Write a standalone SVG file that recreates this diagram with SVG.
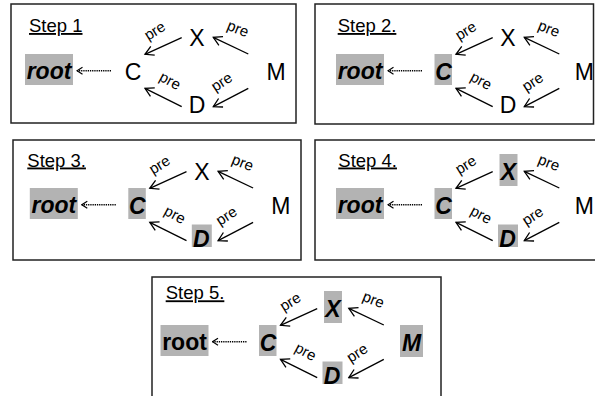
<svg xmlns="http://www.w3.org/2000/svg" xmlns:xlink="http://www.w3.org/1999/xlink" width="595" height="396" viewBox="0 0 595 396">
  <style>
    .frame { fill: #fff; stroke: #222; stroke-width: 1.5; }
    .hl { fill: #b3b3b3; stroke: none; }
    .step { font-family: "Liberation Sans", Arial, sans-serif; font-size: 18.5px; text-decoration: underline; fill: #000; }
    .node { font-family: "Liberation Sans", Arial, sans-serif; font-size: 23px; text-anchor: middle; fill: #000; }
    .done { font-weight: bold; font-style: italic; }
    .bold { font-weight: bold; }
    .edge { stroke: #000; stroke-width: 1.3; fill: none; }
    .dotted { stroke: #000; stroke-width: 1.5; stroke-dasharray: 1.3 0.9; fill: none; }
    .pre { font-family: "Liberation Sans", Arial, sans-serif; font-size: 15px; text-anchor: middle; fill: #000; }
  </style>
  <defs>
    <marker id="head" markerWidth="11" markerHeight="12" refX="9.5" refY="6" orient="auto" markerUnits="userSpaceOnUse">
      <path d="M1,1.2 L9.5,6 L1,10.8" fill="none" stroke="#000" stroke-width="1.3"/>
    </marker>
    <marker id="headSmall" markerWidth="8" markerHeight="9" refX="7" refY="4.5" orient="auto" markerUnits="userSpaceOnUse">
      <path d="M1.5,1 L7,4.5 L1.5,8" fill="none" stroke="#000" stroke-width="1.2"/>
    </marker>
    <!-- pre-order edges shared by every step -->
    <g id="edges">
      <line class="edge" x1="181.7" y1="37.7" x2="145" y2="54.3" marker-end="url(#head)"/>
      <line class="edge" x1="248.3" y1="54" x2="213.3" y2="37.3" marker-end="url(#head)"/>
      <line class="edge" x1="181.7" y1="106.7" x2="145" y2="88.3" marker-end="url(#head)"/>
      <line class="edge" x1="248.3" y1="88.3" x2="213.3" y2="106.7" marker-end="url(#head)"/>
      <line class="dotted" x1="111" y1="70.7" x2="77" y2="70.7" marker-end="url(#headSmall)"/>
      <text class="pre" transform="translate(156,33) rotate(-32)" y="2.5">pre</text>
      <text class="pre" transform="translate(237,31) rotate(22)" y="2.5">pre</text>
      <text class="pre" transform="translate(169,83) rotate(28)" y="2.5">pre</text>
      <text class="pre" transform="translate(223,84) rotate(-33)" y="2.5">pre</text>
    </g>
  </defs>

  <!-- frames -->
  <rect class="frame" x="11" y="4" width="285" height="119"/>
  <rect class="frame" x="315" y="4" width="278.5" height="120"/>
  <rect class="frame" x="13" y="140" width="288" height="120"/>
  <rect class="frame" x="315" y="140" width="290" height="120"/>
  <rect class="frame" x="152" y="277" width="289" height="130"/>

  <!-- Step 1 -->
  <g id="step1">
    <text class="step" x="29" y="32">Step 1</text>
    <g id="connectors1"><use xlink:href="#edges"/></g>
    <g id="s1-root"><rect class="hl" x="25" y="54" width="48" height="31"/><text class="node done" x="49" y="78.5">root</text></g>
    <g id="s1-C"><text class="node" x="133" y="79.5">C</text></g>
    <g id="s1-X"><text class="node" x="197" y="45.5">X</text></g>
    <g id="s1-D"><text class="node" x="197" y="113">D</text></g>
    <g id="s1-M"><text class="node" x="276" y="80">M</text></g>
  </g>

  <!-- Step 2 -->
  <text class="step" x="337.7" y="32">Step 2.</text>
  <g id="step2" transform="translate(311,0)">
    <g id="connectors2"><use xlink:href="#edges"/></g>
    <g id="s2-root"><rect class="hl" x="25" y="54" width="48" height="31"/><text class="node done" x="49" y="78.5">root</text></g>
    <g id="s2-C"><rect class="hl" x="123.5" y="54" width="17.5" height="31"/><text class="node done" x="132.5" y="79.5">C</text></g>
    <g id="s2-X"><text class="node" x="197" y="45.5">X</text></g>
    <g id="s2-D"><text class="node" x="197" y="113">D</text></g>
    <g id="s2-M"><text class="node" x="273.3" y="80">M</text></g>
  </g>

  <!-- Step 3 -->
  <text class="step" x="27.3" y="166.5">Step 3.</text>
  <g id="step3" transform="translate(4.8,134)">
    <g id="connectors3"><use xlink:href="#edges"/></g>
    <g id="s3-root"><rect class="hl" x="25" y="54" width="48" height="31"/><text class="node done" x="49" y="78.5">root</text></g>
    <g id="s3-C"><rect class="hl" x="123.5" y="54" width="17.5" height="31"/><text class="node done" x="132.5" y="79.5">C</text></g>
    <g id="s3-X"><text class="node" x="197" y="45.5">X</text></g>
    <g id="s3-D"><rect class="hl" x="187" y="90.5" width="20" height="22.5"/><text class="node done" x="196.5" y="113">D</text></g>
    <g id="s3-M"><text class="node" x="276" y="80">M</text></g>
  </g>

  <!-- Step 4 -->
  <text class="step" x="338.3" y="166.5">Step 4.</text>
  <g id="step4" transform="translate(311,134)">
    <g id="connectors4"><use xlink:href="#edges"/></g>
    <g id="s4-root"><rect class="hl" x="25" y="54" width="48" height="31"/><text class="node done" x="49" y="78.5">root</text></g>
    <g id="s4-C"><rect class="hl" x="123.5" y="54" width="17.5" height="31"/><text class="node done" x="132.5" y="79.5">C</text></g>
    <g id="s4-X"><rect class="hl" x="188.5" y="20" width="18" height="32"/><text class="node done" x="197.5" y="45.5">X</text></g>
    <g id="s4-D"><rect class="hl" x="187" y="90.5" width="20" height="22.5"/><text class="node done" x="196.5" y="113">D</text></g>
    <g id="s4-M"><text class="node" x="273.3" y="80">M</text></g>
  </g>

  <!-- Step 5 -->
  <text class="step" x="165.7" y="299.3">Step 5.</text>
  <g id="step5" transform="translate(135.5,271)">
    <g id="connectors5"><use xlink:href="#edges"/></g>
    <g id="s5-root"><rect class="hl" x="25" y="54" width="48" height="31"/><text class="node bold" x="49" y="78.5">root</text></g>
    <g id="s5-C"><rect class="hl" x="123.5" y="54" width="17.5" height="31"/><text class="node done" x="132.5" y="79.5">C</text></g>
    <g id="s5-X"><rect class="hl" x="188.5" y="20" width="18" height="32"/><text class="node done" x="197.5" y="45.5">X</text></g>
    <g id="s5-D"><rect class="hl" x="187" y="90.5" width="20" height="22.5"/><text class="node done" x="196.5" y="113">D</text></g>
    <g id="s5-M"><rect class="hl" x="264.5" y="54" width="23" height="32"/><text class="node done" x="276" y="80">M</text></g>
  </g>
</svg>
